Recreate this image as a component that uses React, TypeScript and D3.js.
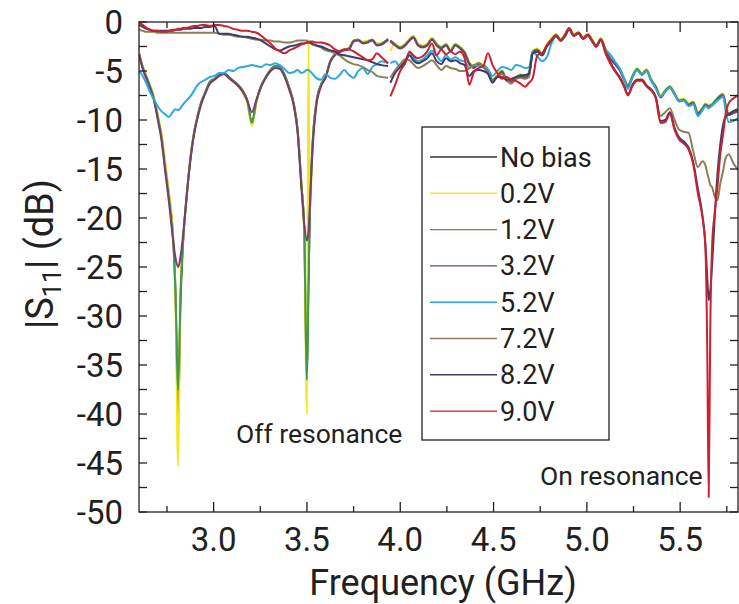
import * as d3 from "d3";

// Frequency grids (GHz): two measurement sweeps stitched at ~3.94 GHz
const freqLeft = [
  2.6, 2.62, 2.64, 2.66, 2.68, 2.7, 2.72, 2.74, 2.76, 2.78, 2.795, 2.81, 2.822, 2.836, 2.855, 2.875,
  2.895, 2.915, 2.935, 2.955, 2.98, 3.005, 3.03, 3.055, 3.08, 3.105, 3.13, 3.155, 3.18, 3.205, 3.23,
  3.255, 3.28, 3.305, 3.33, 3.355, 3.38, 3.405, 3.43, 3.45, 3.47, 3.485, 3.5, 3.508, 3.515, 3.53,
  3.55, 3.575, 3.6, 3.625, 3.65, 3.675, 3.7, 3.725, 3.75, 3.775, 3.8, 3.825, 3.85, 3.875, 3.9, 3.935,
];
const freqRight = [
  3.947, 3.973, 4.0, 4.027, 4.05, 4.07, 4.095, 4.12, 4.145, 4.17, 4.195, 4.22, 4.245, 4.27, 4.295,
  4.32, 4.345, 4.37, 4.395, 4.42, 4.445, 4.47, 4.495, 4.52, 4.545, 4.57, 4.595, 4.62, 4.645, 4.67,
  4.69, 4.71, 4.735, 4.76, 4.785, 4.81, 4.835, 4.86, 4.885, 4.905, 4.93, 4.955, 4.98, 5.005, 5.03,
  5.05, 5.075, 5.1, 5.125, 5.15, 5.175, 5.2, 5.22, 5.245, 5.27, 5.295, 5.32, 5.345, 5.37, 5.395,
  5.42, 5.445, 5.47, 5.495, 5.52, 5.545, 5.57, 5.595, 5.62, 5.635, 5.645, 5.653, 5.661, 5.672,
  5.685, 5.7, 5.715, 5.73, 5.745, 5.76, 5.785, 5.81,
];

// |S11| in dB
const noBiasLeft = [
  -3.2, -4.6, -5.6, -6.6, -7.8, -9.6, -11.6, -14.6, -17.6, -21.2, -27, -40, -29, -22.5, -17.9, -14,
  -11.3, -9.5, -8.1, -7.2, -6.1, -5.8, -5.4, -5.2, -5.6, -6.0, -6.4, -7.0, -8.0, -10.2, -8.0,
  -6.5, -5.6, -4.9, -4.5, -4.6, -5.4, -6.7, -8.4, -11, -16.5, -21, -36, -27, -20, -12.5,
  -8.3, -6.4, -5.6, -4.0, -3.3, -3.0, -2.8, -2.7, -1.9, -1.8, -2.1, -2.0, -1.8, -2.3, -2.2, -1.8,
];
const bias02Left = [
  -3.2, -4.5, -5.5, -6.5, -7.6, -9.4, -11.3, -14.2, -17.3, -21, -28, -45.3, -27, -22.3, -17.8, -14,
  -11.3, -9.5, -8.1, -7.2, -6.2, -5.8, -5.5, -5.3, -5.7, -6.1, -6.5, -7.2, -8.3, -10.6, -8.2,
  -6.6, -5.6, -5.0, -4.6, -4.7, -5.5, -6.8, -8.6, -11.2, -16.3, -21.5, -40, -2.1, -20, -12.5,
  -8.3, -6.4, -5.6, -4.0, -3.3, -3.0, -2.8, -2.6, -1.9, -1.8, -2.0, -1.9, -1.8, -2.2, -2.1, -1.9,
];
const bias12Left = [
  -3.2, -4.6, -5.6, -6.6, -7.8, -9.6, -11.6, -14.8, -17.8, -21.5, -27.5, -37.5, -28, -22.5, -18, -14,
  -11.3, -9.5, -8.1, -7.2, -6.1, -5.8, -5.4, -5.2, -5.6, -6.0, -6.4, -7.0, -8.0, -10.3, -8.0,
  -6.5, -5.6, -4.9, -4.5, -4.6, -5.4, -6.7, -8.4, -11, -16.5, -21, -36.5, -27, -20, -12.5,
  -8.3, -6.4, -5.6, -4.0, -3.3, -3.0, -2.8, -2.7, -1.9, -1.8, -2.1, -2.0, -1.8, -2.3, -2.2, -1.7,
];
const bias32Left = [
  -3.3, -4.8, -5.8, -6.8, -8.0, -9.9, -12, -15.2, -18.3, -21.8, -24, -25, -24, -21.8, -17.8, -14.2,
  -11.5, -9.7, -8.3, -7.3, -6.3, -5.9, -5.5, -5.3, -5.7, -6.1, -6.5, -7.1, -8.0, -9.2, -7.9,
  -6.6, -5.7, -5.0, -4.7, -4.8, -5.6, -6.9, -8.6, -11.3, -16.8, -20.5, -22.3, -21.5, -19, -13,
  -8.6, -6.6, -5.7, -4.1, -3.4, -3.1, -2.9, -2.8, -2.0, -1.9, -2.2, -2.1, -1.9, -2.4, -2.3, -1.8,
];
const bias52Left = [
  -5.0, -5.5, -6.3, -7.2, -7.9, -8.6, -9.1, -9.4, -9.7, -9.2, -8.9, -9.0, -8.8, -8.4, -8.0, -7.6,
  -7.0, -6.4, -6.1, -5.9, -5.6, -5.5, -5.2, -5.2, -4.9, -5.0, -4.7, -4.6, -4.5, -4.4, -4.5,
  -4.6, -4.3, -4.4, -4.2, -4.4, -4.8, -5.2, -5.1, -4.9, -5.2, -5.1, -4.9, -4.9, -5.0, -5.3,
  -5.7, -5.9, -5.3, -5.7, -5.8, -5.4, -4.9, -5.4, -5.7, -5.0, -4.7, -5.3, -4.6, -4.3, -4.0, -4.2,
];
const bias72Left = [
  -0.8, -0.9, -1.0, -1.0, -1.0, -1.1, -1.1, -1.1, -1.1, -1.1, -1.1, -1.1, -1.1, -1.1, -1.1, -1.1,
  -1.1, -1.1, -1.1, -1.1, -1.1, -1.1, -1.2, -1.3, -1.3, -1.4, -1.5, -1.5, -1.6, -1.7, -1.8,
  -1.8, -1.9, -1.9, -2.0, -2.0, -2.1, -2.1, -2.0, -1.9, -1.9, -1.9, -1.9, -2.0, -2.1, -2.3,
  -2.4, -2.6, -2.9, -3.0, -3.2, -3.4, -3.8, -4.1, -4.3, -4.4, -4.6, -4.9, -5.1, -5.5, -5.6, -5.7,
];
const bias82Left = [
  -0.3, -0.5, -0.7, -0.8, -0.9, -0.9, -0.9, -0.9, -0.9, -0.9, -0.8, -0.8, -0.8, -0.7, -0.7, -0.7,
  -0.6, -0.6, -0.6, -0.5, -0.5, -0.4, -1.2, -1.2, -1.2, -1.3, -1.4, -1.5, -1.5, -1.6, -1.7,
  -1.9, -2.2, -2.5, -2.8, -2.9, -2.7, -2.5, -2.4, -2.3, -2.2, -2.2, -2.1, -2.1, -2.1, -2.2,
  -2.4, -2.5, -2.7, -2.9, -3.0, -3.3, -3.4, -3.5, -3.6, -3.7, -3.8, -3.9, -4.1, -4.3, -4.4, -4.5,
];
const bias90Left = [
  -0.1, -0.3, -0.6, -0.8, -0.9, -0.9, -1.0, -1.0, -0.9, -0.8, -0.8, -0.7, -0.7, -0.6, -0.6, -0.5,
  -0.4, -0.4, -0.3, -0.3, -0.4, -0.3, -0.3, -0.4, -0.5, -0.7, -0.8, -0.9, -0.9, -1.0, -1.1,
  -1.4, -1.8, -2.2, -2.7, -3.0, -3.2, -2.9, -2.7, -2.5, -2.3, -2.2, -2.1, -2.1, -2.0, -2.0,
  -2.1, -2.1, -2.2, -2.4, -2.8, -3.0, -2.8, -2.8, -3.0, -3.3, -3.6, -3.9, -3.8, -3.2, -3.6, -4.2,
];

const noBiasRight = [
  -1.9, -2.3, -2.6, -2.3, -1.8, -1.5, -2.3, -2.5, -2.3, -1.7, -2.3, -2.6, -2.3, -2.9, -2.3,
  -2.6, -3.1, -4.2, -4.6, -4.2, -4.5, -5.0, -5.9, -5.5, -5.0, -5.9, -6.0, -5.7, -5.4, -5.6,
  -5.2, -3.0, -2.8, -3.3, -2.4, -1.8, -1.3, -1.8, -1.3, -0.6, -1.3, -1.1, -1.6, -1.3, -1.9,
  -2.4, -1.7, -2.8, -3.7, -4.2, -4.8, -5.8, -6.5, -5.5, -4.8, -5.3, -4.9, -5.9, -6.6, -7.6,
  -7.0, -6.6, -7.3, -8.0, -7.9, -8.4, -8.2, -9.3, -8.8, -8.4, -8.5, -8.6, -8.5, -8.4,
  -8.1, -7.8, -7.5, -7.4, -8.6, -9.4, -9.2, -9.0,
];
const bias02Right = [
  -3.0, -2.2, -2.5, -2.2, -1.7, -1.4, -2.2, -2.4, -2.2, -1.6, -2.2, -2.5, -2.2, -2.8, -2.2,
  -2.5, -3.0, -4.1, -4.5, -4.1, -4.4, -4.9, -5.8, -5.4, -4.9, -5.8, -5.9, -5.6, -5.3, -5.5,
  -5.1, -2.9, -2.7, -3.2, -2.3, -1.7, -1.2, -1.7, -1.2, -0.6, -1.2, -1.0, -1.5, -1.2, -1.8,
  -2.3, -1.6, -2.7, -3.6, -4.1, -4.7, -5.7, -6.4, -5.4, -4.7, -5.2, -4.8, -5.8, -6.5, -7.5,
  -6.9, -6.5, -7.2, -7.9, -7.8, -8.3, -8.1, -9.2, -8.7, -8.3, -8.4, -8.5, -8.4, -8.3,
  -8.0, -7.7, -7.4, -7.3, -8.5, -9.3, -9.1, -8.9,
];
const bias12Right = [
  -1.9, -2.3, -2.6, -2.3, -1.8, -1.5, -2.3, -2.5, -2.3, -1.7, -2.3, -2.6, -2.3, -2.9, -2.3,
  -2.6, -3.1, -4.2, -4.6, -4.2, -4.5, -5.0, -5.9, -5.5, -5.0, -5.9, -6.0, -5.7, -5.4, -5.6,
  -5.2, -3.0, -2.8, -3.3, -2.4, -1.8, -1.3, -1.8, -1.3, -0.6, -1.3, -1.1, -1.6, -1.3, -1.9,
  -2.4, -1.7, -2.8, -3.7, -4.2, -4.8, -5.8, -6.5, -5.5, -4.8, -5.3, -4.9, -5.9, -6.6, -7.6,
  -7.0, -6.6, -7.3, -8.0, -7.9, -8.4, -8.2, -9.3, -8.8, -8.4, -8.5, -8.6, -8.5, -8.4,
  -8.1, -7.8, -7.5, -7.4, -8.7, -9.5, -9.3, -9.1,
];
const bias32Right = [
  -2.0, -2.4, -2.7, -2.4, -1.9, -1.6, -2.4, -2.6, -2.4, -1.8, -2.4, -2.7, -2.4, -3.0, -2.4,
  -2.7, -3.2, -4.3, -4.7, -4.3, -4.6, -5.1, -6.0, -5.6, -5.1, -6.0, -6.1, -5.8, -5.5, -5.7,
  -5.3, -3.1, -2.9, -3.4, -2.5, -1.9, -1.4, -1.9, -1.4, -0.7, -1.4, -1.2, -1.7, -1.4, -2.0,
  -2.5, -1.8, -2.9, -3.8, -4.3, -4.9, -5.9, -6.6, -5.6, -4.9, -5.4, -5.0, -6.0, -6.7, -7.7,
  -7.1, -6.7, -7.4, -8.1, -8.0, -8.5, -8.3, -9.4, -8.9, -8.5, -8.6, -8.7, -8.6, -8.5,
  -8.2, -7.9, -7.6, -7.5, -8.7, -9.5, -9.3, -9.1,
];
const bias52Right = [
  -4.2, -4.0, -4.6, -4.0, -3.1, -3.6, -4.0, -3.8, -3.4, -2.9, -3.4, -4.0, -3.4, -3.8, -3.6,
  -3.9, -4.0, -4.7, -4.4, -4.5, -4.4, -4.8, -5.5, -5.0, -4.6, -4.7, -4.9, -4.4, -4.5, -4.7,
  -4.6, -3.0, -3.5, -4.0, -3.6, -2.2, -1.5, -1.9, -1.4, -0.8, -1.4, -1.2, -1.7, -1.4, -2.0,
  -2.5, -1.8, -2.8, -3.3, -4.0, -4.7, -5.8, -6.8, -5.6, -4.9, -5.4, -5.0, -6.0, -6.8, -7.6,
  -7.1, -6.7, -7.4, -8.1, -8.0, -8.6, -8.4, -9.6, -9.0, -8.6, -8.7, -8.8, -8.7, -8.5,
  -8.3, -8.0, -7.8, -7.6, -9.2, -10.2, -10.1, -9.8,
];
const bias72Right = [
  -5.7, -4.9, -4.3, -3.8, -3.9, -4.3, -4.7, -4.5, -4.2, -3.9, -4.4, -4.9, -4.5, -4.7, -4.8,
  -5.0, -5.0, -4.7, -4.4, -4.2, -4.5, -5.2, -6.0, -5.6, -5.3, -5.9, -6.3, -5.8, -5.7, -5.8,
  -5.6, -3.2, -3.0, -3.4, -2.5, -1.9, -1.4, -1.9, -1.3, -0.7, -1.4, -1.1, -1.7, -1.3, -2.0,
  -2.5, -1.8, -3.0, -4.1, -5.0, -5.6, -6.6, -7.4, -6.4, -5.9, -5.9, -6.5, -6.9, -7.7, -9.6,
  -9.2, -8.8, -10.0, -11.0, -11.2, -11.3, -13.2, -14.8, -14.2, -14.6, -15.4, -16.0, -16.6, -16.9,
  -17.8, -18.2, -16.5, -15.2, -13.8, -13.5, -14.4, -15.1,
];
const bias82Right = [
  -6.2, -5.2, -4.6, -4.0, -3.4, -3.9, -4.2, -4.0, -3.7, -3.2, -4.0, -4.3, -3.7, -4.0, -3.9,
  -4.2, -4.4, -5.5, -5.0, -4.9, -5.0, -5.3, -6.2, -5.6, -5.6, -5.9, -5.8, -5.6, -5.5, -5.4,
  -5.3, -3.2, -3.0, -3.4, -2.5, -1.9, -1.4, -1.9, -1.3, -0.7, -1.4, -1.1, -1.7, -1.3, -2.0,
  -2.5, -1.8, -3.1, -4.1, -4.9, -5.6, -6.5, -7.4, -6.4, -5.9, -5.9, -6.5, -6.9, -7.7, -10.1,
  -10.0, -9.2, -10.8, -11.8, -12.2, -12.8, -14.3, -17.0, -19.8, -22.5, -26.0, -28.4, -27.5, -24.5,
  -20.0, -15.5, -12.5, -10.5, -9.6, -9.4, -9.1, -8.9,
];
const bias90Right = [
  -7.6, -6.4, -5.0, -4.2, -3.0, -3.4, -3.7, -3.5, -3.0, -2.2, -3.4, -2.8, -3.3, -3.0, -3.3,
  -3.0, -3.7, -6.4, -5.1, -4.7, -4.5, -3.2, -4.4, -5.2, -5.8, -5.6, -5.9, -6.0, -6.3, -6.6,
  -6.2, -5.7, -3.4, -3.2, -2.4, -1.8, -1.4, -1.9, -1.2, -0.7, -1.4, -1.1, -1.7, -1.3, -2.0,
  -2.5, -1.8, -3.2, -4.2, -5.0, -5.7, -6.6, -7.5, -6.5, -6.0, -6.0, -6.6, -7.0, -7.8, -10.3,
  -10.2, -9.4, -11.0, -12.0, -12.4, -13.0, -14.5, -17.5, -20.0, -23.0, -33.0, -48.5, -32.0, -22.5,
  -19.5, -16.8, -13.5, -11.5, -9.2, -8.3, -7.8, -7.5,
];

const seriesNames = ["No bias", "0.2V", "1.2V", "3.2V", "5.2V", "7.2V", "8.2V", "9.0V"];
const seriesColors = ["#353535", "#f4e61a", "#3f9a4b", "#7a3c72", "#2aaae0", "#8c7f58", "#3a3d6d", "#cf202e"];
const leftValues = [noBiasLeft, bias02Left, bias12Left, bias32Left, bias52Left, bias72Left, bias82Left, bias90Left];
const rightValues = [noBiasRight, bias02Right, bias12Right, bias32Right, bias52Right, bias72Right, bias82Right, bias90Right];

const xTickLabels = [3.0, 3.5, 4.0, 4.5, 5.0, 5.5];
const yTickLabels = [0, -5, -10, -15, -20, -25, -30, -35, -40, -45, -50];

const W = 739;
const H = 604;
const plotLeft = 139;
const plotRight = 738;
const plotTop = 22;
const plotBottom = 512;
const ink = "#231f20";
const font = "Roboto, 'Open Sans', sans-serif";

export default function App() {
  const x = d3.scaleLinear().domain([2.6, 5.81]).range([plotLeft, plotRight]);
  const y = d3.scaleLinear().domain([-50, 0]).range([plotBottom, plotTop]);

  const line = d3
    .line<[number, number]>()
    .x((d) => x(d[0]))
    .y((d) => y(d[1]))
    .curve(d3.curveMonotoneX);

  const series = seriesNames.map((name, i) => ({
    name,
    color: seriesColors[i],
    left: freqLeft.map((f, j) => [f, leftValues[i][j]] as [number, number]),
    right: freqRight.map((f, j) => [f, rightValues[i][j]] as [number, number]),
  }));

  const xMinor = d3.range(2.75, 5.81, 0.25);
  const yMinor = d3.range(-50, 0.01, 2.5);

  const legendX = 422;
  const legendY = 127;
  const rowH = 36.3;

  return (
    <svg
      width={W}
      height={H}
      style={{ position: "absolute", left: 0, top: 0, background: "#fff" }}
      fontFamily={font}
    >
      <defs>
        <clipPath id="plotClip">
          <rect x={plotLeft} y={plotTop} width={plotRight - plotLeft} height={plotBottom - plotTop} />
        </clipPath>
      </defs>

      {/* curves */}
      <g clipPath="url(#plotClip)" fill="none" strokeWidth={2} strokeLinejoin="round">
        {series.map((s) => (
          <g key={s.name} stroke={s.color}>
            <path d={line(s.left) ?? ""} />
            <path d={line(s.right) ?? ""} />
          </g>
        ))}
      </g>

      {/* frame */}
      <rect
        x={plotLeft}
        y={plotTop}
        width={plotRight - plotLeft}
        height={plotBottom - plotTop}
        fill="none"
        stroke={ink}
        strokeWidth={1.3}
      />

      {/* ticks */}
      <g stroke={ink} strokeWidth={1.3}>
        {xMinor.map((t) => {
          const major = Math.abs(t * 2 - Math.round(t * 2)) < 1e-6;
          const len = major ? 10 : 6;
          return (
            <g key={"xt" + t}>
              <line x1={x(t)} x2={x(t)} y1={plotBottom} y2={plotBottom - len} />
              <line x1={x(t)} x2={x(t)} y1={plotTop} y2={plotTop + len} />
            </g>
          );
        })}
        {yMinor.map((t) => (
          <g key={"yt" + t}>
            <line x1={plotLeft} x2={plotLeft + 8} y1={y(t)} y2={y(t)} />
            <line x1={plotRight} x2={plotRight - 8} y1={y(t)} y2={y(t)} />
          </g>
        ))}
      </g>

      {/* tick labels */}
      <g fill={ink} fontSize={33}>
        {xTickLabels.map((t) => (
          <text key={"xl" + t} x={x(t)} y={551} textAnchor="middle">
            {t.toFixed(1)}
          </text>
        ))}
        {yTickLabels.map((t) => (
          <text key={"yl" + t} x={123} y={y(t) + 12} textAnchor="end">
            {t}
          </text>
        ))}
      </g>

      {/* axis titles */}
      <text x={443} y={595} textAnchor="middle" fontSize={36} fill={ink}>
        Frequency (GHz)
      </text>
      <text transform="translate(53,254) rotate(-90)" textAnchor="middle" fontSize={38} fill={ink}>
        |S
        <tspan fontSize={25} dy={8}>
          11
        </tspan>
        <tspan dy={-8}>| (dB)</tspan>
      </text>

      {/* annotations */}
      <text x={236} y={443} fontSize={26.5} fill={ink}>
        Off resonance
      </text>
      <text x={540} y={485} fontSize={26.5} fill={ink}>
        On resonance
      </text>

      {/* legend */}
      <rect x={legendX} y={legendY} width={187} height={313} fill="#fff" stroke={ink} strokeWidth={1.3} />
      {series.map((s, i) => {
        const ry = legendY + 30 + i * rowH;
        return (
          <g key={"lg" + s.name}>
            <line x1={legendX + 8} x2={legendX + 75} y1={ry} y2={ry} stroke={s.color} strokeWidth={1.4} />
            <text x={legendX + 78} y={ry + 9.5} fontSize={27} fill={ink}>
              {s.name}
            </text>
          </g>
        );
      })}
    </svg>
  );
}
